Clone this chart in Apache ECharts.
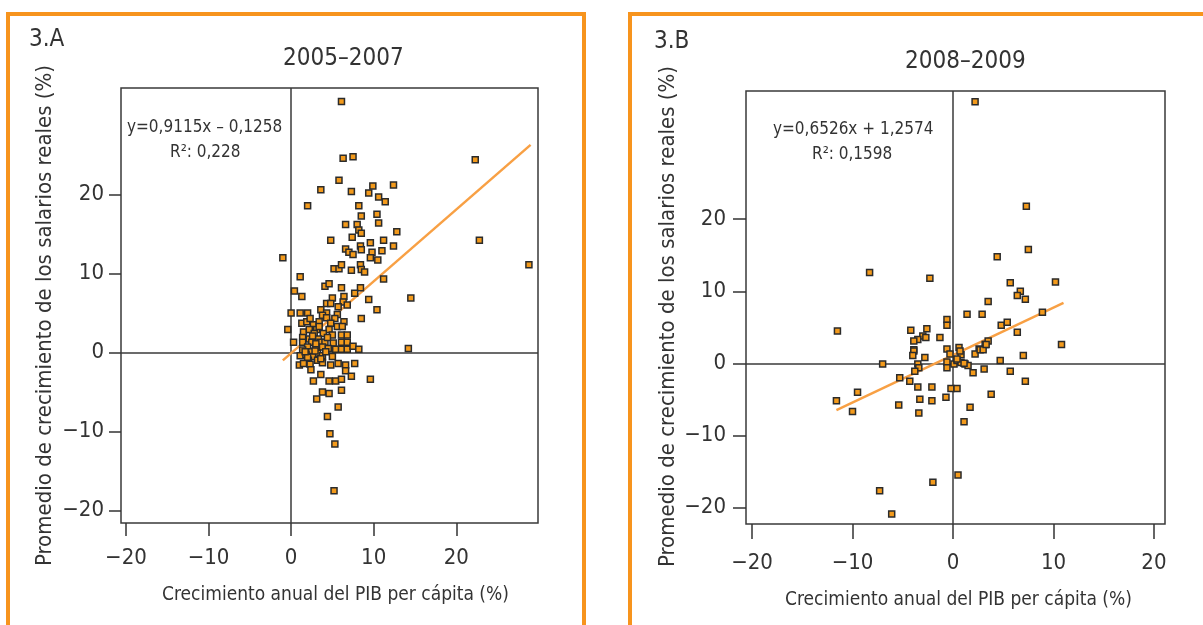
<!DOCTYPE html>
<html>
<head>
<meta charset="utf-8">
<script src="https://cdn.jsdelivr.net/npm/echarts@6/dist/echarts.min.js"></script>
<style>
html,body{margin:0;padding:0;background:#fff;}
#chart{width:1203px;height:625px;}
</style>
</head>
<body>
<div id="chart"></div>
<script>
// ---------- DATA ----------
const panelLabels = ['3.A', '3.B'];
const panelTitles = ['2005–2007', '2008–2009'];
const xAxisName = 'Crecimiento anual del PIB per cápita (%)';
const yAxisName = 'Promedio de crecimiento de los salarios reales (%)';
const tickValues = [-20, -10, 0, 10, 20];
const equationsA = ['y=0,9115x – 0,1258', 'R²: 0,228'];
const equationsB = ['y=0,6526x + 1,2574', 'R²: 0,1598'];

// 2005-2007 points [GDP per capita growth, real wage growth]
const pointsA = [
 [6.1,31.8],[6.3,24.6],[7.5,24.8],[22.3,24.4],[5.8,21.8],[3.6,20.6],[7.3,20.4],[9.9,21.1],[9.4,20.2],
 [10.6,19.7],[11.4,19.1],[12.4,21.2],[2.0,18.6],[8.2,18.6],[8.5,17.3],[10.4,17.5],[10.6,16.4],[6.6,16.2],
 [8.0,16.2],[8.2,15.5],[8.5,15.1],[12.8,15.3],[7.4,14.6],[4.8,14.2],[9.6,13.9],[11.2,14.2],[22.8,14.2],
 [8.4,13.5],[12.4,13.5],[6.6,13.1],[7.0,12.7],[7.5,12.4],[8.5,13.0],[9.8,12.7],[11.0,12.9],[9.6,12.0],
 [10.5,11.7],[-1.0,12.0],[28.8,11.1],[8.4,11.1],[5.2,10.6],[5.8,10.6],[6.1,11.1],[7.3,10.4],[8.5,10.5],
 [8.9,10.2],[1.1,9.6],[11.2,9.3],[4.1,8.4],[4.6,8.7],[6.1,8.2],[8.4,8.2],[0.4,7.8],[7.7,7.5],[1.3,7.1],
 [6.4,7.1],[5.0,6.9],[9.4,6.7],[14.5,6.9],
 [4.3,6.2],[4.8,6.2],[6.3,6.4],[6.8,6.0],[5.7,5.8],[10.4,5.4],[3.6,5.4],[0.0,5.0],[1.1,5.0],[2.0,5.0],
 [4.3,5.0],[3.8,4.7],[5.6,4.8],[8.5,4.3],[4.3,4.4],[5.3,4.3],[1.3,3.7],[1.9,3.9],[2.7,3.5],[3.4,3.9],
 [4.8,3.7],[6.4,3.9],[-0.4,2.9],[1.5,2.6],[2.2,2.9],[3.1,2.9],[4.6,2.9],[5.6,3.3],[6.2,3.3],[2.8,2.4],
 [3.9,2.4],[5.0,2.2],[6.1,2.2],[6.8,2.2],[1.4,1.9],[2.2,1.7],[3.3,1.7],[0.3,1.3],[1.4,1.3],[2.5,1.3],
 [3.5,1.3],[4.1,1.3],[5.1,1.2],[6.1,1.3],[6.8,1.3],[2.0,0.7],[3.0,0.7],[3.8,0.7],[4.5,0.5],[5.4,0.4],
 [6.1,0.4],[6.8,0.4],[7.5,0.8],[8.2,0.4],[14.2,0.5],[1.4,0.3],[2.5,0.1],[3.2,-0.1],[1.1,-0.4],[1.8,-0.3],
 [2.6,-0.5],[3.8,-0.4],[5.0,-0.5],[2.1,-1.0],[3.2,-1.0],[3.8,-1.3],[1.0,-1.6],[1.5,-1.4],[2.3,-1.5],
 [4.8,-1.6],[5.7,-1.4],[6.6,-1.6],[7.7,-1.4],[2.4,-2.2],[6.6,-2.3],[3.6,-2.8],[7.3,-3.0],[2.7,-3.6],
 [4.6,-3.6],[5.4,-3.6],[6.1,-3.4],[9.6,-3.4],[3.8,-5.0],[4.6,-5.2],[6.1,-4.8],[3.1,-5.9],[5.7,-6.9],
 [4.4,-8.1],[4.7,-10.3],[5.3,-11.6],[5.2,-17.5],
 [2.9,0.2],[3.6,-0.8],[4.2,0.1],[2.0,-0.6],[3.0,1.1],[4.4,1.9],[2.6,2.1],[1.7,0.1],[3.4,3.3],[2.3,4.3]
];
// 2005-2007 fitted line (read endpoints)
const fitA = [[-1.0,-1.0],[29.0,26.3]];

// 2008-2009 points
const pointsB = [
 [2.2,36.3],[7.3,21.8],[7.5,15.8],[4.4,14.8],[-8.3,12.6],[-2.3,11.8],[5.7,11.2],[10.2,11.3],[6.7,10.0],
 [6.4,9.4],[7.2,8.9],[3.5,8.6],[1.4,6.8],[2.9,6.8],[8.9,7.1],[4.8,5.3],[5.4,5.7],[6.4,4.3],[-0.6,6.1],
 [-0.6,5.3],[-11.5,4.5],[-4.2,4.6],[-2.6,4.8],[-3.0,3.8],[-2.7,3.6],[-3.5,3.3],[-3.9,3.1],[-1.3,3.6],
 [0.6,2.2],[3.2,2.6],[3.5,3.1],[10.8,2.6],[2.6,2.0],[-3.9,1.9],[-0.6,2.0],
 [-3.9,1.7],[-4.0,1.1],[-2.8,0.8],[-0.3,1.3],[0.8,1.2],[2.2,1.3],[2.7,1.9],[3.0,1.9],[3.3,2.6],[7.0,1.1],
 [-7.0,-0.1],[-3.5,-0.1],[-0.6,0.2],[0.1,-0.1],[0.4,0.4],[0.8,0.1],[1.2,-0.1],[1.5,-0.3],[4.7,0.4],
 [-3.4,-0.6],[-0.6,-0.6],[-3.8,-1.1],[2.0,-1.3],[3.1,-0.8],[5.7,-1.1],[-5.3,-2.0],[-4.3,-2.5],[7.2,-2.5],
 [-3.5,-3.3],[-2.1,-3.3],[-0.2,-3.5],[0.4,-3.5],[-9.5,-4.0],[-11.6,-5.2],[-3.3,-5.0],[-2.1,-5.2],
 [-0.7,-4.7],[3.8,-4.3],[-5.4,-5.8],[1.7,-6.1],[-10.0,-6.7],[-3.4,-6.9],[1.1,-8.1],[0.5,-15.5],
 [-2.0,-16.5],[-7.3,-17.7],[-6.1,-20.9],[0.7,1.7],[0.4,0.6],[1.1,0.0]
];
// 2008-2009 fitted line (read endpoints)
const fitB = [[-11.6,-6.5],[11.0,8.4]];

// ---------- CHART ----------
const FONT = "'Liberation Sans Narrow', 'DejaVu Sans Condensed', sans-serif";
const TXT = '#333333';
const ORANGE = '#F7941D';
const minusFmt = v => String(v).replace('-', '\u2212');

function xAxisCfg(gi, min, max, margin, tickLen, namePad, nameGap) {
  return {
    gridIndex: gi, type: 'value', min: min, max: max,
    name: xAxisName, nameLocation: 'middle', nameGap: nameGap,
    nameTextStyle: {fontFamily: FONT, fontSize: 19, color: TXT, padding: namePad},
    axisLine: {show: false, onZero: false},
    axisTick: {show: true, length: tickLen, customValues: tickValues, lineStyle: {color: TXT, width: 1.5}},
    axisLabel: {customValues: tickValues, formatter: minusFmt, fontFamily: FONT, fontSize: 22, color: TXT, margin: margin},
    splitLine: {show: false}
  };
}
function yAxisCfg(gi, min, max, margin, tickLen, namePad, nameGap) {
  return {
    gridIndex: gi, type: 'value', min: min, max: max,
    name: yAxisName, nameLocation: 'middle', nameGap: nameGap,
    nameTextStyle: {fontFamily: FONT, fontSize: 22, color: TXT, padding: namePad},
    axisLine: {show: false, onZero: false},
    axisTick: {show: true, length: tickLen, customValues: tickValues, lineStyle: {color: TXT, width: 1.5}},
    axisLabel: {customValues: tickValues, formatter: minusFmt, fontFamily: FONT, fontSize: 22, color: TXT, margin: margin},
    splitLine: {show: false}
  };
}
function scatterSeries(gi, data) {
  return {
    type: 'scatter', xAxisIndex: gi, yAxisIndex: gi, data: data,
    symbol: 'rect', symbolSize: 6,
    itemStyle: {color: '#F39A1B', borderColor: '#2b2b2b', borderWidth: 1.5, opacity: 1},
    z: 5,
    markLine: {
      silent: true, symbol: 'none', label: {show: false},
      lineStyle: {color: '#3a3a3a', width: 1.5, type: 'solid'},
      data: [{xAxis: 0}, {yAxis: 0}], z: 2
    }
  };
}
function fitSeries(gi, data) {
  return {
    type: 'line', xAxisIndex: gi, yAxisIndex: gi, data: data, symbol: 'none',
    lineStyle: {color: '#F8A044', width: 2.5}, z: 4, silent: true
  };
}
function txt(x, y, s, size) {
  return {type: 'text', left: x, top: y, style: {text: s, font: size + 'px ' + FONT, fill: TXT}};
}

const chart = echarts.init(document.getElementById('chart'), null, {renderer: 'canvas'});
chart.setOption({
  backgroundColor: '#ffffff',
  animation: false,
  grid: [
    {left: 121, top: 88, width: 417, height: 435, show: true, borderColor: '#3a3a3a', borderWidth: 1.5, containLabel: false},
    {left: 746, top: 91, width: 419, height: 433, show: true, borderColor: '#3a3a3a', borderWidth: 1.5, containLabel: false}
  ],
  xAxis: [
    xAxisCfg(0, -20.6, 29.9, 24, 13, [0, 0, 0, 12], 63),
    xAxisCfg(1, -20.6, 21.1, 28, 15, [0, 0, 0, 6], 67)
  ],
  yAxis: [
    yAxisCfg(0, -21.6, 33.5, 17, 12, [0, 20, 0, 0], 65),
    yAxisCfg(1, -22.3, 37.8, 20, 13, [0, 18, 0, 0], 67)
  ],
  series: [
    scatterSeries(0, pointsA), fitSeries(0, fitA),
    scatterSeries(1, pointsB), fitSeries(1, fitB)
  ],
  graphic: [
    {type: 'rect', shape: {x: 8, y: 14, width: 576, height: 700}, style: {fill: 'none', stroke: ORANGE, lineWidth: 4}, silent: true},
    {type: 'rect', shape: {x: 630, y: 14, width: 700, height: 700}, style: {fill: 'none', stroke: ORANGE, lineWidth: 4}, silent: true},
    txt(29, 28, panelLabels[0], 24),
    txt(654, 30, panelLabels[1], 24),
    txt(283, 47, panelTitles[0], 24),
    txt(905, 50, panelTitles[1], 24),
    txt(127, 119, equationsA[0], 17),
    txt(170, 144, equationsA[1], 17),
    txt(773, 121, equationsB[0], 17),
    txt(812, 146, equationsB[1], 17)
  ]
});
</script>
</body>
</html>
